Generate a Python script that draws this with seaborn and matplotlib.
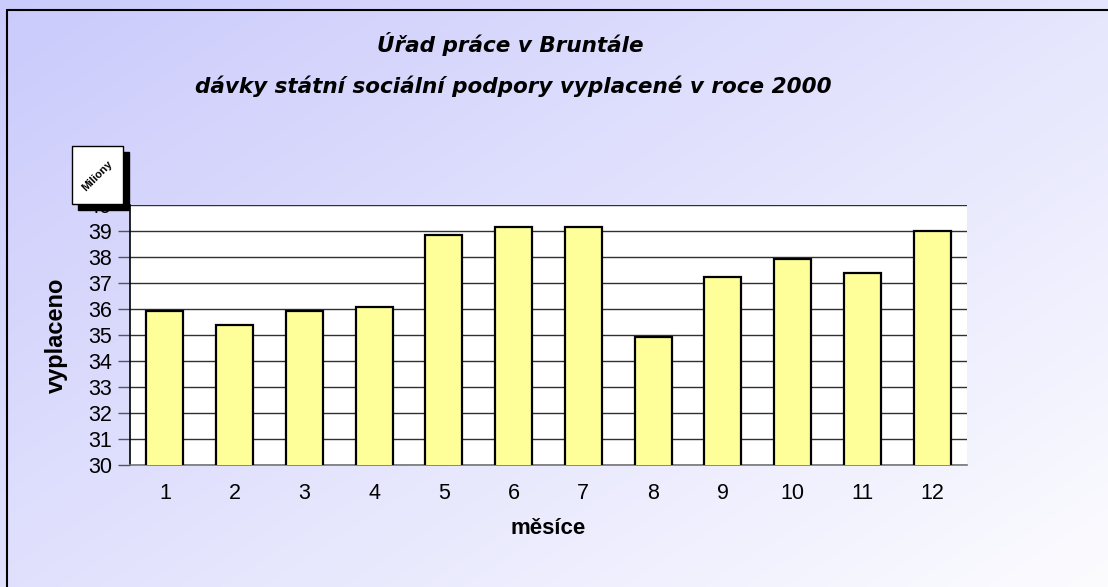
import numpy as np
import pandas as pd
import matplotlib
matplotlib.use("Agg")
import matplotlib.pyplot as plt
import seaborn as sns
from matplotlib.patches import Rectangle
from matplotlib.lines import Line2D

# data (millions CZK per month)
months = ["1", "2", "3", "4", "5", "6", "7", "8", "9", "10", "11", "12"]
paid = [35.93, 35.39, 35.93, 36.08, 38.85, 39.15, 39.15, 34.93, 37.22, 37.93, 37.40, 39.00]
y_ticks = [30, 31, 32, 33, 34, 35, 36, 37, 38, 39, 40]

title_1 = "Úřad práce v Bruntále"
title_2 = "dávky státní sociální podpory vyplacené v roce 2000"
x_label = "měsíce"
y_label = "vyplaceno"
unit_label = "Miliony"

df = pd.DataFrame({"mesic": months, "vyplaceno": paid})

sns.set_style("white")
plt.rcParams["font.family"] = ["Liberation Sans", "DejaVu Sans"]
plt.rcParams["text.color"] = "black"
plt.rcParams["axes.labelcolor"] = "black"
plt.rcParams["xtick.color"] = "black"
plt.rcParams["ytick.color"] = "black"

W, H = 1108, 587
fig = plt.figure(figsize=(W / 100, H / 100), dpi=100)

# gradient background (lavender top-left -> almost white bottom-right), one pixel per pixel
gx, gy = np.meshgrid(np.linspace(0, 1, W), np.linspace(0, 1, H))
t = np.clip(0.55 * gx + 0.45 * gy, 0, 1)
c0 = np.array([202, 202, 252]) / 255
c1 = np.array([252, 252, 255]) / 255
img = c0[None, None, :] * (1 - t[..., None]) + c1[None, None, :] * t[..., None]
fig.figimage(img, xo=0, yo=0, origin="upper", zorder=-10)

# chart border (top and left visible)
fig.add_artist(Line2D([7 / W, 1.01], [1 - 10 / H, 1 - 10 / H], color="black", lw=1.5, transform=fig.transFigure))
fig.add_artist(Line2D([7 / W, 7 / W], [1 - 10 / H, -0.01], color="black", lw=1.5, transform=fig.transFigure))

ax = fig.add_axes([130 / W, 1 - 465 / H, (967 - 130) / W, (465 - 205) / H])
ax.set_facecolor("white")
sns.barplot(data=df, x="mesic", y="vyplaceno", color="#ffff99", width=0.53,
            edgecolor="black", linewidth=1.6, saturation=1, ax=ax, zorder=3)

ax.set_ylim(30, 40)
ax.set_xlim(-0.5, 11.5)
ax.set_yticks(y_ticks)
ax.set_yticklabels([str(v) for v in y_ticks], fontsize=15.5)
ax.yaxis.grid(True, color="#303030", lw=1.0, zorder=0)
ax.set_axisbelow(True)
ax.set_xticks(range(len(months)))
ax.set_xticklabels(months, fontsize=15.5)
ax.set_xticks(np.arange(-0.5, 12, 1), minor=True)
ax.tick_params(axis="x", which="major", length=0, pad=13)
ax.tick_params(axis="x", which="minor", length=7, color="#555555", width=1)
ax.tick_params(axis="y", which="major", length=9, color="#555555", width=1, pad=4, left=True)
for s in ["top", "right"]:
    ax.spines[s].set_visible(False)
ax.spines["left"].set_color("black")
ax.spines["left"].set_linewidth(1.2)
ax.spines["bottom"].set_color("#777777")
ax.spines["bottom"].set_linewidth(1.2)

ax.set_xlabel(x_label, fontsize=16, fontweight="bold", labelpad=10)
ax.set_ylabel(y_label, fontsize=17, fontweight="bold", labelpad=14)

# titles
fig.text(510 / W, 1 - 44 / H, title_1, ha="center", va="center", fontsize=15.5,
         fontweight="heavy", fontstyle="italic", family=["DejaVu Sans"])
fig.text(513 / W, 1 - 86 / H, title_2, ha="center", va="center", fontsize=15.5,
         fontweight="heavy", fontstyle="italic", family=["DejaVu Sans"])

# unit box with shadow
fig.add_artist(Rectangle((78 / W, 1 - 210 / H), 51 / W, 58 / H, transform=fig.transFigure,
                         facecolor="black", edgecolor="black", zorder=20))
fig.add_artist(Rectangle((72 / W, 1 - 204 / H), 51 / W, 58 / H, transform=fig.transFigure,
                         facecolor="white", edgecolor="black", lw=1, zorder=21))
fig.text(97 / W, 1 - 176 / H, unit_label, rotation=45, ha="center", va="center",
         fontsize=8, fontweight="bold", zorder=22)

fig.savefig("out.png", dpi=100)
